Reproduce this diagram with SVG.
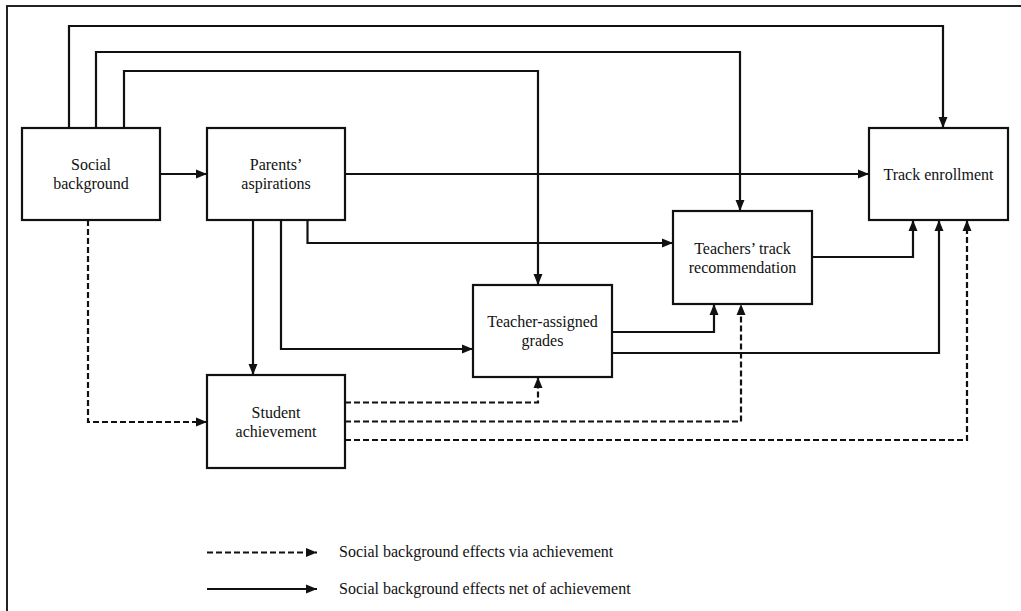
<svg xmlns="http://www.w3.org/2000/svg" width="1021" height="611" viewBox="0 0 1021 611">
<style>
.box{fill:#fff;stroke:#111;stroke-width:2.2}
.lbl{font-family:"Liberation Serif","Times New Roman",serif;font-size:16px;fill:#111;text-anchor:middle}
.leg{font-family:"Liberation Serif","Times New Roman",serif;font-size:16px;fill:#111}
.c{fill:none;stroke:#111;stroke-width:2.2;marker-end:url(#ah)}
.d{fill:none;stroke:#111;stroke-width:2.2;stroke-dasharray:6 3;marker-end:url(#ah)}
.frame{fill:none;stroke:#222;stroke-width:2}
</style>
<defs>
<marker id="ah" markerUnits="userSpaceOnUse" markerWidth="11" markerHeight="10" viewBox="0 0 11 10" refX="11" refY="5" orient="auto">
<path d="M0,0.5 L11,5 L0,9.5 Z" fill="#111"/>
</marker>
</defs>
<rect width="1021" height="611" fill="#fff"/>
<path class="frame" d="M7,611 V6 H1021"/>
<g id="connectors">
<path class="c" d="M160,174 H207"/>
<path class="c" d="M69,128 V26 H943 V128"/>
<path class="c" d="M96,128 V52 H740 V211"/>
<path class="c" d="M124,128 V71 H538 V285"/>
<path class="c" d="M345,174 H869"/>
<path class="c" d="M307.5,220 V243 H673"/>
<path class="c" d="M281,220 V349 H473"/>
<path class="c" d="M253,220 V375"/>
<path class="d" d="M88,220 V422 H207"/>
<path class="c" d="M812,257 H913 V220"/>
<path class="c" d="M612,332 H714 V304"/>
<path class="c" d="M612,353 H939 V220"/>
<path class="d" d="M345,402.5 H538 V377"/>
<path class="d" d="M345,421.5 H741 V304"/>
<path class="d" d="M345,440 H967 V220"/>
</g>
<g id="social-background">
<rect class="box" x="22" y="128" width="138" height="92"/>
<text class="lbl" x="91" y="170">Social</text>
<text class="lbl" x="91" y="189">background</text>
</g>
<g id="parents-aspirations">
<rect class="box" x="207" y="128" width="138" height="92"/>
<text class="lbl" x="276" y="170">Parents’</text>
<text class="lbl" x="276" y="189">aspirations</text>
</g>
<g id="track-enrollment">
<rect class="box" x="869" y="128" width="139" height="92"/>
<text class="lbl" x="938.5" y="180">Track enrollment</text>
</g>
<g id="teachers-track-recommendation">
<rect class="box" x="673" y="211" width="139" height="93"/>
<text class="lbl" x="742.5" y="253.5">Teachers’ track</text>
<text class="lbl" x="742.5" y="272.5">recommendation</text>
</g>
<g id="teacher-assigned-grades">
<rect class="box" x="473" y="285" width="139" height="92"/>
<text class="lbl" x="542.5" y="327">Teacher-assigned</text>
<text class="lbl" x="542.5" y="346">grades</text>
</g>
<g id="student-achievement">
<rect class="box" x="207" y="375" width="138" height="93"/>
<text class="lbl" x="276" y="418">Student</text>
<text class="lbl" x="276" y="437">achievement</text>
</g>
<g id="legend">
<path class="d" d="M207,552.5 H317"/>
<path class="c" d="M207,589 H317"/>
<text class="leg" x="339" y="557">Social background effects via achievement</text>
<text class="leg" x="339" y="593.5">Social background effects net of achievement</text>
</g>
</svg>
